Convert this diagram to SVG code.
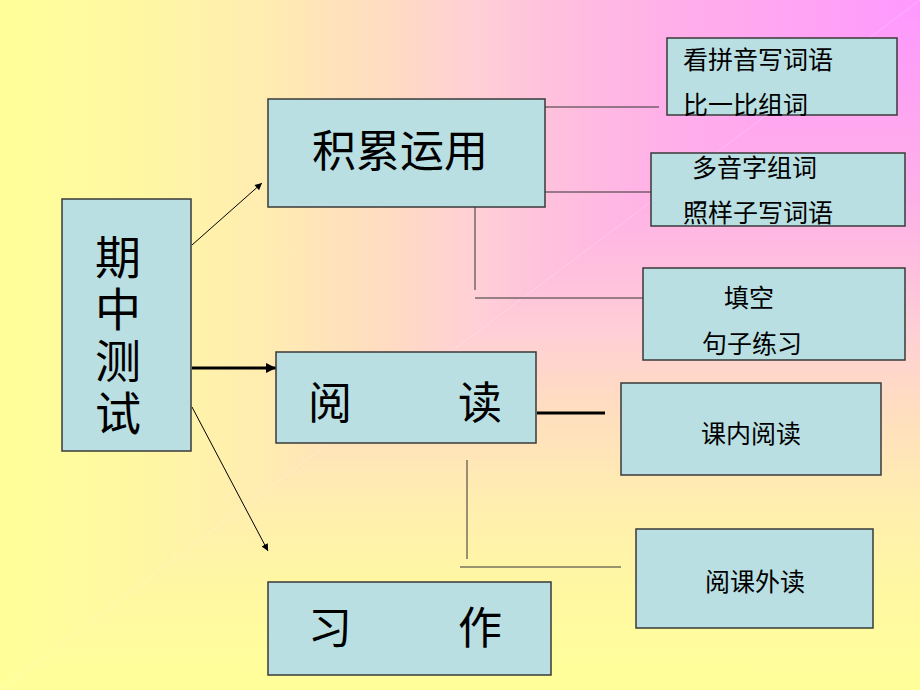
<svg xmlns="http://www.w3.org/2000/svg" width="920" height="690" viewBox="0 0 920 690">
  <defs>
    <linearGradient id="gx" x1="920" y1="0" x2="0" y2="0" gradientUnits="userSpaceOnUse">
      <stop offset="0" stop-color="#FF99FF"/>
      <stop offset="0.28" stop-color="#FFB0E8"/>
      <stop offset="0.41" stop-color="#FFC2DC"/>
      <stop offset="0.48" stop-color="#FFCFD6"/>
      <stop offset="0.59" stop-color="#FFDDC0"/>
      <stop offset="0.72" stop-color="#FFEDB0"/>
      <stop offset="0.86" stop-color="#FFF8A2"/>
      <stop offset="1" stop-color="#FFFF99"/>
    </linearGradient>
    <linearGradient id="gy" x1="0" y1="0" x2="0" y2="690" gradientUnits="userSpaceOnUse">
      <stop offset="0" stop-color="#FF99FF"/>
      <stop offset="0.28" stop-color="#FFB0E8"/>
      <stop offset="0.41" stop-color="#FFC2DC"/>
      <stop offset="0.48" stop-color="#FFCFD6"/>
      <stop offset="0.59" stop-color="#FFDDC0"/>
      <stop offset="0.72" stop-color="#FFEDB0"/>
      <stop offset="0.86" stop-color="#FFF8A2"/>
      <stop offset="1" stop-color="#FFFF99"/>
    </linearGradient>
    <marker id="ah" viewBox="0 0 10 10" refX="10" refY="5" markerWidth="9" markerHeight="7" markerUnits="userSpaceOnUse" orient="auto">
      <path d="M0,0 L10,5 L0,10 z" fill="#000"/>
    </marker>
    <marker id="ahThick" viewBox="0 0 10 10" refX="10" refY="5" markerWidth="11" markerHeight="10" markerUnits="userSpaceOnUse" orient="auto">
      <path d="M0,0 L10,5 L0,10 z" fill="#000"/>
    </marker>
  </defs>
  <style>
    .box { fill: #B9DFE2; stroke: #3A3A3A; stroke-width: 1.5; }
    .t { font-family: "Noto Sans CJK SC", "Noto Sans CJK TC", sans-serif; fill: #000; dominant-baseline: central; }
    .big { font-size: 44px; text-anchor: middle; }
    .small { font-size: 25px; }
    .mid { text-anchor: middle; }
    .ln { stroke: #333; stroke-width: 1; fill: none; }
    .vert { font-family: "Noto Sans CJK SC", "Noto Sans CJK TC", sans-serif; font-size: 46px; writing-mode: vertical-rl; letter-spacing: 6px; fill: #000; }
  </style>
  <polygon points="0,0 920,0 0,690" fill="url(#gx)"/>
  <polygon points="920,0 920,690 0,690" fill="url(#gy)"/>

  <g id="connectors">
    <line x1="192" y1="245" x2="262" y2="183" stroke="#000" stroke-width="1" marker-end="url(#ah)"/>
    <line x1="192" y1="368" x2="276" y2="368" stroke="#000" stroke-width="3" marker-end="url(#ahThick)"/>
    <line x1="192" y1="407" x2="268" y2="551" stroke="#000" stroke-width="1" marker-end="url(#ah)"/>
    <line class="ln" x1="545" y1="107" x2="659" y2="107"/>
    <line class="ln" x1="545" y1="192" x2="651" y2="192"/>
    <line class="ln" x1="475" y1="207" x2="475" y2="290"/>
    <line class="ln" x1="475" y1="298" x2="643" y2="298"/>
    <line x1="537" y1="413" x2="605" y2="413" stroke="#000" stroke-width="3"/>
    <line class="ln" x1="467" y1="460" x2="467" y2="559"/>
    <line class="ln" x1="460" y1="567" x2="621" y2="567"/>
  </g>

  <g id="node-qizhong">
    <rect class="box" x="62" y="199" width="129" height="252"/>
    <text class="vert" x="118" y="234">期中测试</text>
  </g>

  <g id="node-jilei">
    <rect class="box" x="268" y="99" width="277" height="108"/>
    <text class="t big" x="400" y="148">积累运用</text>
  </g>

  <g id="node-yuedu">
    <rect class="box" x="276" y="352" width="260" height="91"/>
    <text class="t big" x="330" y="400">阅</text>
    <text class="t big" x="480" y="400">读</text>
  </g>

  <g id="node-xizuo">
    <rect class="box" x="268" y="582" width="283" height="93"/>
    <text class="t big" x="330" y="625">习</text>
    <text class="t big" x="480" y="625">作</text>
  </g>

  <g id="node-kanpinyin">
    <rect class="box" x="667" y="38" width="230" height="77"/>
    <text class="t small" x="683" y="58">看拼音写词语</text>
    <text class="t small" x="683" y="103">比一比组词</text>
  </g>

  <g id="node-duoyin">
    <rect class="box" x="651" y="153" width="254" height="73"/>
    <text class="t small" x="692" y="166">多音字组词</text>
    <text class="t small" x="683" y="211">照样子写词语</text>
  </g>

  <g id="node-tiankong">
    <rect class="box" x="643" y="268" width="262" height="92"/>
    <text class="t small mid" x="749" y="296">填空</text>
    <text class="t small mid" x="752" y="342">句子练习</text>
  </g>

  <g id="node-kenei">
    <rect class="box" x="621" y="383" width="260" height="92"/>
    <text class="t small mid" x="751" y="432">课内阅读</text>
  </g>

  <g id="node-kewai">
    <rect class="box" x="636" y="529" width="237" height="99"/>
    <text class="t small mid" x="755" y="580">阅课外读</text>
  </g>
</svg>
